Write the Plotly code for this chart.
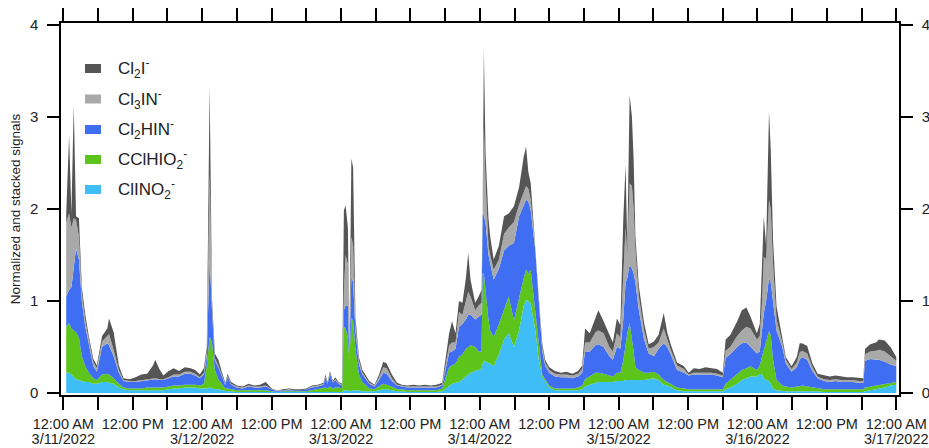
import pandas as pd
import plotly.graph_objects as go

# ---------------- data (hours since 3/11/2022 00:00) ----------------
hours = [0.5, 1.0, 1.4, 1.8, 2.2, 2.7, 3.2, 3.8, 4.4, 5.2, 5.8, 6.7, 7.6, 7.9, 8.7, 9.6, 10.4, 11.5, 12.5, 13.5,
         14.5, 15.5, 15.9, 16.6, 17.3, 18.2, 19.1, 20.0, 21.0, 22.0, 22.8, 23.6, 24.3, 24.8, 25.3, 25.7, 26.2, 26.8, 27.4, 28.0,
         28.4, 29.0, 30.0, 31.0, 32.0, 33.0, 34.0, 35.0, 36.0, 37.0, 38.0, 39.0, 40.0, 41.0, 42.0, 43.0, 44.0, 45.0, 45.3, 45.7,
         46.1, 46.6, 47.0, 47.6, 48.2, 48.5, 48.8, 49.2, 49.45, 49.8, 50.1, 50.5, 51.1, 51.7, 52.9, 53.8, 54.6, 55.3, 55.9, 56.8,
         57.7, 58.5, 59.5, 60.5, 61.5, 62.5, 63.5, 64.5, 65.5, 66.1, 66.7, 67.2, 67.8, 68.4, 69.0, 69.6, 70.0, 70.4, 71.2, 71.8,
         72.3, 72.5, 72.7, 73.0, 73.5, 73.8, 74.4, 75.3, 76.2, 77.0, 77.9, 78.8, 79.6, 80.0, 80.4, 80.8, 81.6, 82.2, 82.8, 83.3,
         84.0, 85.0, 86.0, 87.0, 88.0, 89.0, 89.7, 90.2, 91.0, 92.0, 92.5, 93.4, 94.4, 95.0, 95.7, 96.3, 96.8, 97.2, 97.5, 97.9,
         98.3, 98.6, 98.9, 99.5, 100.4, 101.2, 102.1, 102.9, 103.8, 104.4, 105.0, 106.1, 107.3, 108.1, 109.0, 110.0, 111.0, 112.0, 113.0, 114.0,
         114.5, 115.3, 116.5, 117.3, 118.1, 118.8, 119.9, 120.4, 120.8, 121.1, 121.5, 122.0, 122.3, 122.7, 123.3, 124.3, 124.9, 125.9, 126.8, 127.3,
         127.7, 128.6, 129.5, 130.4, 131.5, 132.5, 133.5, 134.5, 135.5, 136.5, 137.5, 138.3, 138.6, 139.5, 140.5, 141.0, 142.0, 143.0, 144.0]

clino2 = [.22, .22, .20, .18, .15, .14, .13, .12, .12, .10, .10, .12, .12, .11, .10, .06, .04, .03, .03, .03,
          .03, .03, .03, .03, .03, .04, .05, .05, .06, .06, .06, .05, .05, .05, .06, .05, .04, .04, .03, .02,
          .02, .02, .01, .01, .01, .01, .01, .01, .01, .005, .005, .005, .005, .005, .01, .01, .01, .01, .01, .01,
          .01, .01, .01, .01, .01, .03, .03, .03, .02, .03, .03, .03, .03, .02, .02, .02, .03, .04, .04, .03,
          .02, .02, .01, .01, .01, .01, .01, .01, .02, .05, .08, .10, .11, .12, .15, .18, .20, .22, .24, .25,
          .26, .32, .35, .34, .33, .32, .29, .42, .58, .65, .50, .68, .95, 1.01, 1.00, .97, .68, .36, .17, .13,
          .06, .03, .03, .03, .03, .03, .04, .07, .09, .11, .12, .12, .12, .12, .13, .13, .13, .14, .14, .14,
          .14, .14, .14, .14, .14, .15, .16, .14, .09, .08, .06, .03, .02, .02, .02, .02, .02, .02, .02, .02,
          .04, .06, .10, .14, .16, .18, .18, .21, .20, .16, .14, .13, .10, .05, .03, .02, .02, .02, .02, .02,
          .02, .02, .02, .02, .01, .01, .01, .01, .01, .01, .01, .01, .02, .03, .04, .05, .06, .08, .09]

cclhio2 = [.50, .54, .50, .50, .51, .46, .27, .17, .10, .06, .04, .08, .09, .09, .06, .04, .02, .02, .02, .02,
           .03, .03, .03, .03, .03, .03, .03, .03, .03, .03, .03, .03, .05, .25, .55, .50, .21, .11, .07, .03,
           .03, .02, .02, .02, .02, .02, .02, .02, .01, .005, .015, .015, .015, .015, .01, .02, .03, .04, .05, .04,
           .06, .04, .05, .05, .04, .69, .67, .57, .33, .79, .75, .45, .17, .10, .03, .02, .04, .06, .05, .04,
           .02, .02, .02, .02, .02, .02, .02, .02, .03, .11, .20, .20, .21, .27, .27, .30, .30, .30, .26, .20,
           .19, .98, .95, .76, .47, .36, .32, .33, .32, .40, .29, .37, .30, .33, .30, .37, .20, .14, .03, .02,
           .02, .02, .02, .02, .02, .03, .04, .08, .09, .11, .10, .09, .07, .06, .09, .09, .22, .41, .51, .62,
           .46, .31, .14, .11, .08, .07, .07, .06, .05, .04, .04, .03, .03, .02, .02, .02, .02, .02, .02, .02,
           .06, .08, .10, .11, .11, .11, .07, .09, .20, .31, .41, .54, .53, .31, .11, .06, .05, .04, .05, .05,
           .06, .05, .04, .03, .03, .03, .03, .03, .03, .03, .03, .03, .04, .04, .04, .04, .04, .03, .03]

cl2hin = [.33, .36, .45, .72, .91, .85, .60, .43, .32, .13, .09, .30, .33, .32, .24, .12, .07, .07, .07, .08,
          .08, .09, .09, .08, .08, .09, .10, .10, .12, .12, .10, .08, .10, .10, .86, .35, .10, .13, .09, .04,
          .13, .05, .03, .02, .04, .03, .03, .04, .02, .01, .01, .01, .01, .01, .02, .03, .03, .04, .11, .05,
          .14, .06, .08, .04, .03, .18, .25, .35, .07, .46, .42, .20, .11, .08, .05, .03, .07, .12, .12, .06,
          .04, .03, .03, .03, .03, .03, .03, .03, .03, .12, .16, .15, .16, .33, .33, .32, .35, .33, .30, .38,
          .40, .65, .63, .75, .70, .73, .62, .60, .65, .55, .84, .87, .80, .76, .78, .65, .67, .45, .25, .15,
          .14, .13, .12, .12, .11, .12, .14, .30, .27, .30, .31, .29, .21, .18, .28, .26, .45, .65, .60, .63,
          .75, .85, .92, .65, .36, .21, .17, .28, .40, .38, .32, .19, .17, .15, .16, .16, .16, .16, .15, .13,
          .28, .28, .30, .29, .28, .21, .18, .15, .30, .40, .45, .58, .57, .65, .54, .42, .25, .17, .21, .29,
          .31, .29, .18, .11, .09, .08, .09, .08, .08, .08, .07, .07, .29, .30, .28, .27, .24, .20, .17]

cl3in = [.80, .83, .65, .50, .31, .25, .08, .06, .04, .04, .04, .06, .08, .12, .07, .03, .01, .01, .01, .01,
         .01, .01, .01, .01, .01, .01, .02, .02, .02, .02, .02, .01, .02, .05, .92, .05, .03, .02, .01, .01,
         .01, .01, .01, .01, .01, .01, .01, .01, .00, .01, .00, .01, .00, .00, .00, .01, .01, .01, .01, .01,
         .01, .01, .01, .01, .01, .20, .55, .45, .03, .42, .40, .07, .04, .02, .01, .01, .03, .06, .06, .03,
         .01, .01, .01, .01, .01, .01, .01, .01, .01, .05, .08, .10, .07, .16, .10, .20, .25, .20, .10, .12,
         .13, .01, .96, .45, .10, .09, .11, .10, .18, .20, .23, .13, .15, .15, .14, .11, .03, .05, .05, .03,
         .03, .03, .03, .03, .03, .03, .04, .10, .10, .14, .15, .15, .10, .09, .15, .12, .40, .60, .25, .89,
         .90, .70, .35, .15, .10, .05, .10, .07, .16, .08, .05, .05, .04, .01, .02, .02, .02, .02, .02, .02,
         .08, .08, .12, .14, .17, .20, .15, .17, .30, .61, .45, .85, .80, .39, .12, .05, .04, .03, .05, .08,
         .07, .07, .04, .02, .02, .02, .02, .02, .02, .02, .02, .02, .07, .08, .10, .11, .11, .09, .06]

cl2i = [.10, .85, .15, 1.23, .04, .20, .07, .07, .04, .04, .03, .06, .08, .17, .19, .05, .02, .02, .04, .06,
        .06, .14, .20, .11, .04, .07, .07, .04, .05, .04, .04, .03, .05, .05, .95, .08, .05, .06, .03, .01,
        .02, .02, .01, .01, .02, .01, .02, .04, .01, .00, .01, .01, .01, .01, .01, .01, .01, .01, .02, .01,
        .02, .01, .02, .01, .01, .88, .54, .40, .05, .85, .85, .08, .04, .03, .02, .01, .03, .06, .05, .04,
        .02, .01, .01, .02, .01, .02, .01, .02, .02, .06, .13, .23, .10, .12, .13, .25, .42, .18, .08, .10,
        .14, .02, .86, .30, .30, .20, .11, .15, .19, .15, .17, .19, .37, .43, .18, .18, .05, .05, .04, .03,
        .03, .03, .02, .03, .02, .03, .04, .15, .10, .16, .22, .13, .13, .10, .16, .14, .68, .68, .10, .96,
        .75, .53, .15, .11, .08, .05, .06, .08, .17, .08, .06, .03, .03, .02, .05, .04, .06, .05, .05, .03,
        .12, .13, .16, .22, .21, .13, .07, .13, .45, .44, .15, .96, .64, .26, .14, .03, .03, .03, .06, .10,
        .08, .08, .04, .03, .04, .04, .04, .04, .03, .03, .03, .03, .06, .08, .09, .11, .12, .10, .04]

series_names = ["ClINO<sub>2</sub><sup>-</sup>", "CClHIO<sub>2</sub><sup>-</sup>", "Cl<sub>2</sub>HIN<sup>-</sup>",
                "Cl<sub>3</sub>IN<sup>-</sup>", "Cl<sub>2</sub>I<sup>-</sup>"]
series_values = [clino2, cclhio2, cl2hin, cl3in, cl2i]
series_colors = ["#3fbdf7", "#5cc41a", "#3f6ef2", "#a9a9a9", "#555555"]

tick_hours = [0, 12, 24, 36, 48, 60, 72, 84, 96, 108, 120, 132, 144]
time_labels = ["12:00 AM", "12:00 PM", "12:00 AM", "12:00 PM", "12:00 AM", "12:00 PM", "12:00 AM",
               "12:00 PM", "12:00 AM", "12:00 PM", "12:00 AM", "12:00 PM", "12:00 AM"]
date_hours = [0, 24, 48, 72, 96, 120, 144]
date_labels = ["3/11/2022", "3/12/2022", "3/13/2022", "3/14/2022", "3/15/2022", "3/16/2022", "3/17/2022"]
minor_hours = [6, 18, 30, 42, 54, 66, 78, 90, 102, 114, 126, 138]
y_ticks = [0, 1, 2, 3, 4]

# ---------------- figure ----------------
start = pd.Timestamp("2022-03-11 00:00")
t = start + pd.to_timedelta(hours, unit="h")

fig = go.Figure()
for name, vals, col in zip(series_names, series_values, series_colors):
    fig.add_trace(go.Scatter(x=t, y=vals, name=name, mode="lines", stackgroup="one",
                             line=dict(width=0, color=col), fillcolor=col, showlegend=False))
# empty traces so that the right-hand axis and the date-label axis are drawn
fig.add_trace(go.Scatter(x=[], y=[], yaxis="y2", showlegend=False, hoverinfo="skip"))
fig.add_trace(go.Scatter(x=[], y=[], xaxis="x2", showlegend=False, hoverinfo="skip"))

W, H = 929, 448
L, R, T, B = 61, 30, 23, 53
pw, ph = W - L - R, H - T - B
font = "Liberation Sans, Arial, sans-serif"
ink = "#222222"

xr = [start - pd.Timedelta(hours=0.4), start + pd.Timedelta(hours=144.47)]
yr = [-0.022, 4.022]

fig.update_layout(
    width=W, height=H, margin=dict(l=L, r=R, t=T, b=B, autoexpand=False),
    paper_bgcolor="white", plot_bgcolor="white",
    font=dict(family=font, size=14, color=ink),
    xaxis=dict(type="date", range=xr, tickmode="array", automargin=False,
               tickvals=[start + pd.Timedelta(hours=h) for h in tick_hours], ticktext=time_labels,
               ticks="outside", ticklen=13, tickwidth=1.5, tickcolor="black",
               showline=True, linewidth=1.5, linecolor="black", mirror="allticks",
               showgrid=False, zeroline=False, tickfont=dict(size=14.5, color=ink), ticklabelstandoff=2,
               minor=dict(tickmode="array", tickvals=[start + pd.Timedelta(hours=h) for h in minor_hours],
                          ticks="outside", ticklen=6, tickwidth=1.5, tickcolor="black", showgrid=False)),
    xaxis2=dict(type="date", range=xr, tickmode="array", automargin=False, overlaying="x",
                anchor="y", side="bottom",
                tickvals=[start + pd.Timedelta(hours=h) for h in date_hours], ticktext=date_labels,
                ticks="outside", ticklen=13, tickcolor="rgba(0,0,0,0)", showline=False, showgrid=False,
                zeroline=False, tickfont=dict(size=14.5, color=ink), ticklabelstandoff=18),
    yaxis=dict(range=yr, tickvals=y_ticks, ticks="outside", ticklen=12, tickwidth=1.5, automargin=False,
               tickcolor="black", showline=True, linewidth=1.5, linecolor="black", mirror=True,
               showgrid=False, zeroline=False, tickfont=dict(size=15, color=ink), ticklabelstandoff=6,
               title=dict(text="Normalized and stacked signals", font=dict(size=13.5, color=ink), standoff=6)),
    yaxis2=dict(range=yr, tickvals=y_ticks, overlaying="y", side="right", anchor="x", automargin=False,
                ticks="outside", ticklen=12, tickwidth=1.5, tickcolor="black", showline=True,
                linewidth=1.5, linecolor="black", showgrid=False, zeroline=False,
                tickfont=dict(size=15, color=ink), ticklabelstandoff=6),
)

# ---------------- legend (swatches + labels) ----------------
legend_order = [4, 3, 2, 1, 0]
row_y = [68.5, 99, 129.5, 159.5, 189.5]
for k, idx in enumerate(legend_order):
    yc = row_y[k]
    fig.add_shape(type="rect", xref="paper", yref="paper",
                  x0=(85 - L) / pw, x1=(101 - L) / pw,
                  y0=(H - B - (yc + 4.5)) / ph, y1=(H - B - (yc - 4.5)) / ph,
                  line=dict(width=0), fillcolor=series_colors[idx])
    fig.add_annotation(xref="paper", yref="paper", x=(116 - L) / pw, y=(H - B - yc) / ph,
                       text=series_names[idx], showarrow=False, xanchor="left", yanchor="middle",
                       font=dict(size=17, color=ink, family=font))

fig.write_html("out.html")
